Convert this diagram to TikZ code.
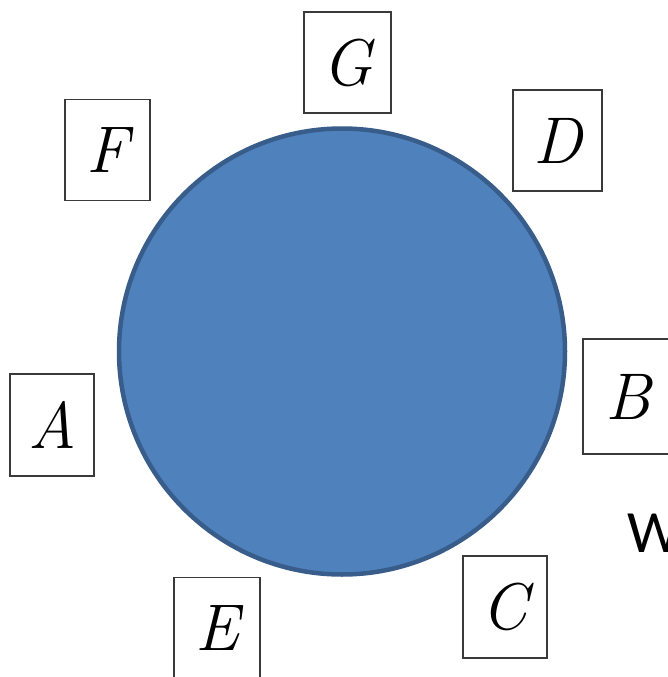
\documentclass[tikz,border=0pt]{standalone}
\usepackage{fontspec}
\newfontfamily\wfont{Carlito}
\definecolor{circfill}{HTML}{4F81BD}
\definecolor{circline}{HTML}{385D8A}
\definecolor{boxline}{HTML}{3A3A3A}
\begin{document}
\begin{tikzpicture}[x=1pt,y=-1pt,
  lbl/.style={draw=boxline, line width=1.2pt, minimum width=85pt, minimum height=101pt,
    inner sep=0pt, font=\fontsize{66}{66}\selectfont\itshape}]
\useasboundingbox (0,0) rectangle (668,677);
\clip (0,0) rectangle (668,677);
\fill[white] (0,0) rectangle (668,677);
\node[circle, draw=circline, fill=circfill, line width=4.5pt, minimum size=446pt, inner sep=0pt] (ring) at (342,351.5) {};
\node[lbl, minimum width=87pt] (G) at (347.5,62.5) {G};
\node[lbl, minimum width=89pt] (D) at (557.5,140.5) {D};
\node[lbl] (F) at (107.5,150) {F};
\node[lbl, minimum width=84pt, minimum height=102pt] (A) at (52,425) {A};
\node[lbl, minimum width=84pt, minimum height=102pt] (C) at (505,607) {C};
\node[lbl, minimum width=86pt] (E) at (217,628) {E};
\node[lbl, minimum width=90pt, minimum height=115pt] (B) at (628,396.5) {B};
\node[anchor=west, inner sep=0pt, font=\wfont\fontsize{60}{60}\selectfont] (W) at (627,533) {W};
\end{tikzpicture}
\end{document}
